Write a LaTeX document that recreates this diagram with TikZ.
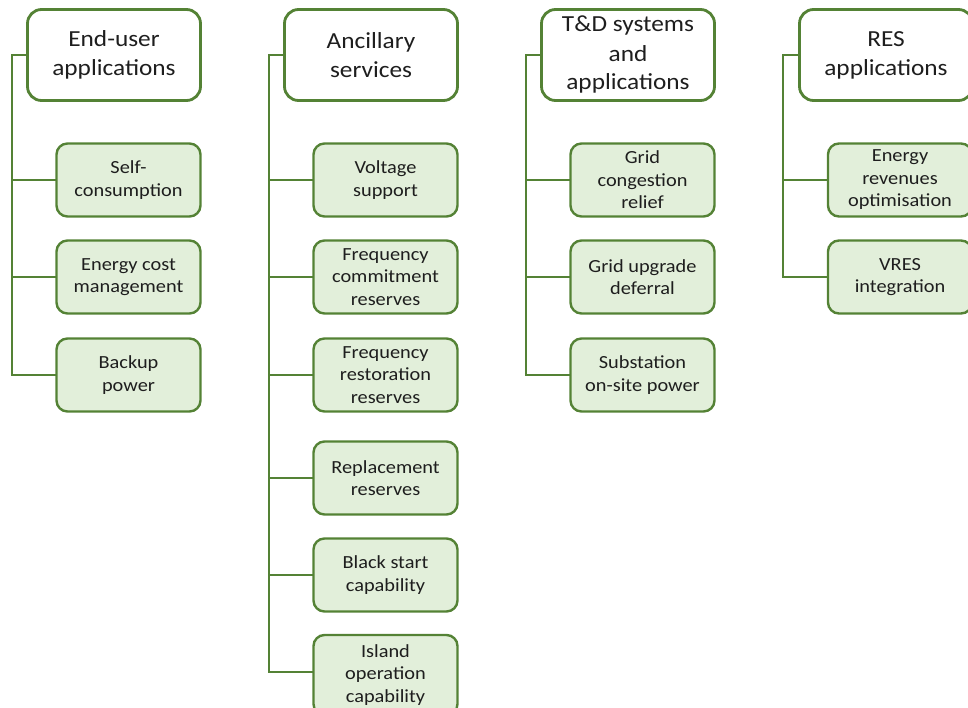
\documentclass[tikz,border=0pt]{standalone}
\usepackage{fontspec}
\setmainfont{Carlito}[FakeStretch=1.1]
\begin{document}
\definecolor{treeline}{RGB}{84,130,53}
\definecolor{leaffill}{RGB}{226,239,218}
\definecolor{inkgrey}{RGB}{30,30,30}
\begin{tikzpicture}[x=1pt,y=-1pt,
  header/.style={draw=treeline, line width=2.8pt, fill=white, rounded corners=14pt,
    minimum width=173pt, minimum height=91pt, align=center, text=inkgrey,
    font=\fontsize{23}{29}\selectfont, inner sep=0pt},
  leaf/.style={draw=treeline, line width=2.4pt, fill=leaffill, rounded corners=11pt,
    minimum width=144pt, minimum height=73pt, align=center, text=inkgrey,
    font=\fontsize{18.5}{22.5}\selectfont, inner sep=0pt},
  branch/.style={draw=treeline, line width=2.4pt, line cap=rect},
]
\useasboundingbox (0,0) rectangle (968,708);

% column headers
\node[header] (h1) at (114,55)   {End-user\\applications};
\node[header] (h2) at (371,55)   {Ancillary\\services};
\node[header] (h3) at (628,55)   {T\&D systems\\and\\applications};
\node[header] (h4) at (886,55)   {RES\\applications};

% spine coordinates
\coordinate (s1) at (12,55);
\coordinate (s2) at (269,55);
\coordinate (s3) at (526,55);
\coordinate (s4) at (783,55);

% end-user applications
\node[leaf] (a1) at (128.5,180) {Self-\\consumption};
\node[leaf] (a2) at (128.5,277) {Energy cost\\management};
\node[leaf] (a3) at (128.5,375) {Backup\\power};

% ancillary services
\node[leaf] (b1) at (385.5,180) {Voltage\\support};
\node[leaf] (b2) at (385.5,277) {Frequency\\commitment\\reserves};
\node[leaf] (b3) at (385.5,375) {Frequency\\restoration\\reserves};
\node[leaf] (b4) at (385.5,478) {Replacement\\reserves};
\node[leaf] (b5) at (385.5,575) {Black start\\capability};
\node[leaf, minimum height=80pt] (b6) at (385.5,675) {Island\\operation\\capability};

% T&D systems and applications
\node[leaf] (c1) at (642.5,180) {Grid\\congestion\\relief};
\node[leaf] (c2) at (642.5,277) {Grid upgrade\\deferral};
\node[leaf] (c3) at (642.5,375) {Substation\\on-site power};

% RES applications
\node[leaf] (d1) at (900,180) {Energy\\revenues\\optimisation};
\node[leaf] (d2) at (900,277) {VRES\\integration};

% connectors: header to spine, spine down, spine to each leaf
\draw[branch] (h1.west) -- (s1) |- (a3.west);
\draw[branch] (s1 |- a1) -- (a1.west);
\draw[branch] (s1 |- a2) -- (a2.west);

\draw[branch] (h2.west) -- (s2) |- ([yshift=3pt]b6.west);
\foreach \n in {b1,b2,b3,b4,b5} \draw[branch] (s2 |- \n) -- (\n.west);

\draw[branch] (h3.west) -- (s3) |- (c3.west);
\draw[branch] (s3 |- c1) -- (c1.west);
\draw[branch] (s3 |- c2) -- (c2.west);

\draw[branch] (h4.west) -- (s4) |- (d2.west);
\draw[branch] (s4 |- d1) -- (d1.west);
\end{tikzpicture}
\end{document}
